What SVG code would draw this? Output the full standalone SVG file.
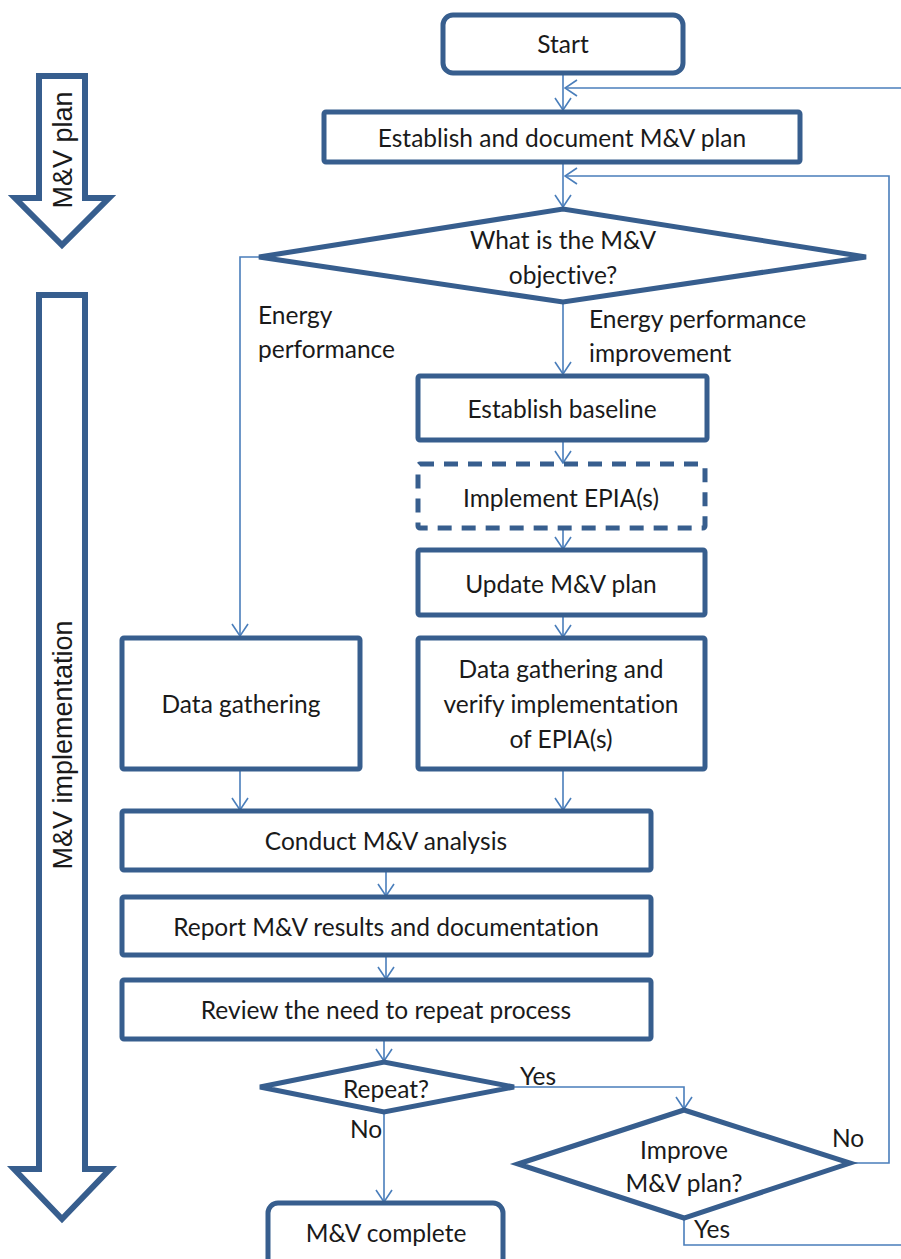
<svg xmlns="http://www.w3.org/2000/svg" width="901" height="1259" viewBox="0 0 901 1259">
<defs>
<style>
.box{fill:#fff;stroke:#375E8E;stroke-width:5}
.dash{fill:#fff;stroke:#375E8E;stroke-width:5;stroke-dasharray:14 10}
.big{fill:#fff;stroke:#375E8E;stroke-width:6;stroke-linejoin:miter}
.con{fill:none;stroke:#4A7EBB;stroke-width:1.6}
.t{font-family:Lato,"Liberation Sans",sans-serif;font-size:24.5px;fill:#1a1a1a;text-anchor:middle;font-variant-ligatures:none}
.l{font-family:Lato,"Liberation Sans",sans-serif;font-size:24.5px;fill:#1a1a1a;font-variant-ligatures:none}
.r{font-family:"Liberation Sans",Arial,sans-serif;font-size:27px;fill:#1a1a1a;text-anchor:middle}
</style>
<marker id="ah" markerUnits="userSpaceOnUse" viewBox="0 0 14 18" refX="13" refY="9" markerWidth="14" markerHeight="18" orient="auto">
<path d="M1,1 L13,9 L1,17" fill="none" stroke="#4A7EBB" stroke-width="1.6"/>
</marker>
</defs>
<rect width="901" height="1259" fill="#fff"/>

<g id="arrow-plan">
<path class="big" d="M39,76 L85,76 L85,198 L109,198 L62,245 L15,198 L39,198 Z"/>
<text class="r" transform="translate(72,150) rotate(-90)">M&amp;V plan</text>
</g>
<g id="arrow-impl">
<path class="big" d="M39,295 L85,295 L85,1169 L110,1169 L62,1219 L14,1169 L39,1169 Z"/>
<text class="r" transform="translate(72,745) rotate(-90)">M&amp;V implementation</text>
</g>

<g id="connectors">
<line class="con" x1="563" y1="73" x2="563" y2="110" marker-end="url(#ah)"/>
<line class="con" x1="901" y1="88" x2="565" y2="88" marker-end="url(#ah)"/>
<line class="con" x1="563" y1="162" x2="563" y2="207" marker-end="url(#ah)"/>
<polyline class="con" points="850,1163 889,1163 889,176 565,176" marker-end="url(#ah)"/>
<polyline class="con" points="259,257 240,257 240,636" marker-end="url(#ah)"/>
<line class="con" x1="563" y1="302" x2="563" y2="374" marker-end="url(#ah)"/>
<line class="con" x1="563" y1="440" x2="563" y2="463" marker-end="url(#ah)"/>
<line class="con" x1="563" y1="528" x2="563" y2="549" marker-end="url(#ah)"/>
<line class="con" x1="563" y1="615" x2="563" y2="637" marker-end="url(#ah)"/>
<line class="con" x1="240" y1="769" x2="240" y2="810" marker-end="url(#ah)"/>
<line class="con" x1="563" y1="769" x2="563" y2="810" marker-end="url(#ah)"/>
<line class="con" x1="386" y1="870" x2="386" y2="896" marker-end="url(#ah)"/>
<line class="con" x1="386" y1="955" x2="386" y2="979" marker-end="url(#ah)"/>
<line class="con" x1="384" y1="1039" x2="384" y2="1061" marker-end="url(#ah)"/>
<line class="con" x1="384" y1="1112" x2="384" y2="1202" marker-end="url(#ah)"/>
<polyline class="con" points="514,1087 684,1087 684,1109" marker-end="url(#ah)"/>
<polyline class="con" points="684,1218 684,1245 901,1245"/>
<text class="l" x="258" y="324">Energy</text>
<text class="l" x="258" y="358">performance</text>
<text class="l" x="589" y="328">Energy performance</text>
<text class="l" x="589" y="362">improvement</text>
<text class="l" x="520" y="1085">Yes</text>
<text class="l" x="350" y="1138">No</text>
<text class="l" x="832" y="1147">No</text>
<text class="l" x="694" y="1238">Yes</text>
</g>

<g id="start">
<rect class="box" x="443" y="15" width="240" height="58" rx="10"/>
<text class="t" x="563" y="53">Start</text>
</g>
<g id="establish-plan">
<rect class="box" x="324" y="112" width="476" height="50" rx="2"/>
<text class="t" x="562" y="147">Establish and document M&amp;V plan</text>
</g>
<g id="objective">
<polygon class="box" points="259,257 563,209 866,257 563,302"/>
<text class="t" x="563" y="249">What is the M&amp;V</text>
<text class="t" x="563" y="284">objective?</text>
</g>
<g id="baseline">
<rect class="box" x="418" y="376" width="289" height="64" rx="2"/>
<text class="t" x="562" y="418">Establish baseline</text>
</g>
<g id="implement">
<rect class="dash" x="418" y="464" width="287" height="64" rx="2"/>
<text class="t" x="561" y="507">Implement EPIA(s)</text>
</g>
<g id="update">
<rect class="box" x="418" y="550" width="287" height="65" rx="2"/>
<text class="t" x="561" y="593">Update M&amp;V plan</text>
</g>
<g id="data-verify">
<rect class="box" x="418" y="638" width="287" height="131" rx="2"/>
<text class="t" x="561" y="678">Data gathering and</text>
<text class="t" x="561" y="713">verify implementation</text>
<text class="t" x="561" y="748">of EPIA(s)</text>
</g>
<g id="data">
<rect class="box" x="122" y="638" width="238" height="131" rx="2"/>
<text class="t" x="241" y="713">Data gathering</text>
</g>
<g id="conduct">
<rect class="box" x="122" y="811" width="529" height="59" rx="2"/>
<text class="t" x="386" y="850">Conduct M&amp;V analysis</text>
</g>
<g id="report">
<rect class="box" x="122" y="897" width="529" height="58" rx="2"/>
<text class="t" x="386" y="936">Report M&amp;V results and documentation</text>
</g>
<g id="review">
<rect class="box" x="122" y="980" width="529" height="59" rx="2"/>
<text class="t" x="386" y="1019">Review the need to repeat process</text>
</g>
<g id="repeat">
<polygon class="box" points="260,1087 384,1062 514,1087 384,1112"/>
<text class="t" x="386" y="1098">Repeat?</text>
</g>
<g id="complete">
<rect class="box" x="268" y="1203" width="235" height="70" rx="10"/>
<text class="t" x="386" y="1242">M&amp;V complete</text>
</g>
<g id="improve">
<polygon class="box" points="518,1164 684,1110 850,1163 684,1218"/>
<text class="t" x="684" y="1159">Improve</text>
<text class="t" x="684" y="1192">M&amp;V plan?</text>
</g>
</svg>
